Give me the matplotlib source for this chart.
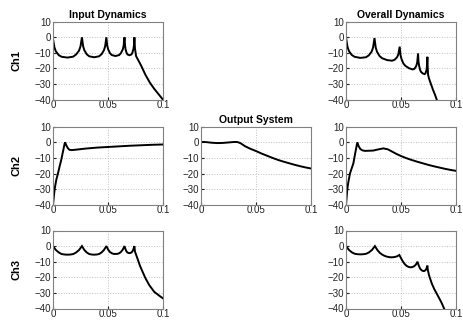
import matplotlib
matplotlib.use("Agg")
import matplotlib.pyplot as plt

plt.rcParams['font.family'] = ['Liberation Sans', 'DejaVu Sans']

# ---------------- data ----------------
# Input Dynamics, Ch1
in1_x = [0, 0.0013, 0.0026, 0.0053, 0.0079, 0.0132, 0.0184, 0.0210, 0.0237, 0.0250, 0.0263,
         0.0274, 0.0285, 0.0307, 0.0330, 0.0374, 0.0418, 0.0441, 0.0463, 0.0474, 0.0485,
         0.0493, 0.0502, 0.0518, 0.0535, 0.0568, 0.0601, 0.0617, 0.0634, 0.0642, 0.0650,
         0.0655, 0.0659, 0.0668, 0.0677, 0.0695, 0.0713, 0.0722, 0.0731, 0.0736, 0.0740,
         0.0745, 0.0755, 0.0770, 0.0800, 0.0840, 0.0880, 0.0920, 0.0960, 0.1000]
in1_y = [-1, -6.5, -9, -11.5, -12.5, -13, -12.4, -11, -8.5, -5.8, 0,
         -5.8, -8.3, -10.9, -12.2, -12.8, -12.2, -10.9, -8.3, -5.8, 0,
         -5.4, -7.8, -10.2, -11.4, -12, -11.4, -10.2, -7.8, -5.4, 0,
         -5.2, -7.5, -9.8, -11, -11.5, -11, -9.8, -7.5, -5.2, 0,
         -7, -12, -14, -18, -24, -29, -33, -36.5, -40]

# Input Dynamics, Ch2
in2_x = [0, 0.0015, 0.003, 0.0045, 0.006, 0.0076, 0.0092, 0.0106, 0.011, 0.012, 0.0135,
         0.015, 0.017, 0.02, 0.025, 0.03, 0.04, 0.05, 0.06, 0.07, 0.08, 0.09, 0.1]
in2_y = [-40, -30, -24, -20, -15.5, -11, -5.5, -0.8, 0, -1.8, -3.8,
         -4.8, -5, -4.8, -4.4, -4, -3.4, -3, -2.6, -2.2, -1.9, -1.6, -1.4]

# Input Dynamics, Ch3
in3_x = [0, 0.0026, 0.0053, 0.0079, 0.0105, 0.0132, 0.0158, 0.0184, 0.0210, 0.0237, 0.0263,
         0.0285, 0.0307, 0.0330, 0.0352, 0.0374, 0.0396, 0.0418, 0.0441, 0.0463, 0.0485,
         0.0502, 0.0518, 0.0535, 0.0551, 0.0568, 0.0584, 0.0601, 0.0617, 0.0634, 0.0650,
         0.0659, 0.0668, 0.0677, 0.0686, 0.0695, 0.0704, 0.0713, 0.0722, 0.0731, 0.0740,
         0.0745, 0.0768, 0.0790, 0.0814, 0.0840, 0.0875, 0.0920, 0.0966, 0.1000]
in3_y = [0, -2.5, -4.1, -5.1, -5.4, -5.5, -5.4, -5.1, -4.1, -2.5, 0,
         -2.5, -4.1, -5.1, -5.4, -5.5, -5.4, -5.1, -4.1, -2.5, 0,
         -2.3, -3.8, -4.6, -5, -5, -5, -4.6, -3.8, -2.3, 0,
         -2, -3.4, -4.1, -4.4, -4.5, -4.4, -4.1, -3.4, -2, 0,
         -3.5, -8, -12.5, -16.4, -20.5, -25, -29.3, -31.8, -33.5]

# Output System
out_x = [0, 0.005, 0.01, 0.015, 0.02, 0.025, 0.03, 0.033, 0.036, 0.04, 0.045, 0.05,
         0.055, 0.06, 0.065, 0.07, 0.075, 0.08, 0.085, 0.09, 0.095, 0.1]
out_y = [0.3, 0.1, -0.3, -0.5, -0.4, -0.1, 0.2, 0.2, -0.6, -2.5, -4.2, -5.6,
         -7.2, -8.6, -10, -11.3, -12.4, -13.4, -14.4, -15.3, -16.1, -16.8]

# Overall Dynamics, Ch1
ov1_x = [0, 0.0013, 0.0026, 0.0052, 0.0078, 0.0130, 0.0181, 0.0207, 0.0233, 0.0246, 0.0259,
         0.0270, 0.0282, 0.0305, 0.0328, 0.0373, 0.0419, 0.0442, 0.0465, 0.0476, 0.0488,
         0.0496, 0.0505, 0.0521, 0.0538, 0.0572, 0.0605, 0.0622, 0.0638, 0.0647, 0.0655,
         0.0659, 0.0664, 0.0672, 0.0680, 0.0698, 0.0715, 0.0723, 0.0732, 0.0736, 0.0740,
         0.0742, 0.0746, 0.0755, 0.0770, 0.0790, 0.0810, 0.0830]
ov1_y = [0, -6, -8.7, -11.3, -12.5, -13.2, -12.8, -11.6, -9.2, -6.6, -0.5,
         -6.5, -9.3, -12, -13.4, -14.6, -15, -14.4, -12.7, -10.8, -6,
         -11.5, -14, -16.7, -18.2, -19.8, -20.6, -20.2, -18.5, -16.3, -10.5,
         -15.5, -18, -20.5, -22, -23.2, -23.6, -23, -21, -18.5, -12.5,
         -18, -24, -26.5, -29.5, -33.5, -37, -41]

# Overall Dynamics, Ch2
ov2_x = [0, 0.0012, 0.002, 0.0036, 0.0067, 0.0085, 0.0103, 0.0115, 0.013, 0.015, 0.0173,
         0.021, 0.0248, 0.029, 0.034, 0.038, 0.042, 0.046, 0.05, 0.055, 0.06, 0.065,
         0.07, 0.075, 0.08, 0.085, 0.09, 0.095, 0.1]
ov2_y = [-40, -30, -26, -20, -13.5, -6.5, 0, -2.5, -4.3, -5.2, -5.5,
         -5.4, -5.3, -4.6, -3.9, -4.5, -6, -7.5, -8.8, -10.2, -11.4, -12.5,
         -13.5, -14.5, -15.4, -16.2, -17, -17.7, -18.3]

# Overall Dynamics, Ch3
ov3_x = [0, 0.0026, 0.0053, 0.0079, 0.0105, 0.0132, 0.0158, 0.0184, 0.0210, 0.0237, 0.0263,
         0.0285, 0.0307, 0.0330, 0.0352, 0.0374, 0.0396, 0.0418, 0.0441, 0.0463, 0.0485,
         0.0502, 0.0518, 0.0535, 0.0551, 0.0568, 0.0584, 0.0601, 0.0617, 0.0634, 0.0650,
         0.0659, 0.0668, 0.0677, 0.0686, 0.0695, 0.0704, 0.0713, 0.0722, 0.0731, 0.0740,
         0.0743, 0.0756, 0.0780, 0.0802, 0.0825, 0.0848, 0.0870, 0.0893]
ov3_y = [0, -2.4, -4, -4.9, -5.2, -5.3, -5.2, -4.9, -4, -2.4, 0,
         -2.5, -4.3, -5.5, -6.3, -6.8, -7.1, -7.2, -7.0, -6.6, -5.7,
         -8, -10, -11.6, -12.7, -13.3, -13.6, -13.5, -13, -12, -10,
         -12, -13.6, -14.7, -15.4, -15.8, -16, -15.9, -15.5, -14.5, -12.5,
         -15, -19, -24, -27.5, -30.5, -33.5, -36.5, -40.2]

x_ticks = [0, 0.05, 0.1]
x_tick_labels = ['0', '0.05', '0.1']
y_ticks = [10, 0, -10, -20, -30, -40]
row_labels = ['Ch1', 'Ch2', 'Ch3']
titles = ['Input Dynamics', 'Output System', 'Overall Dynamics']

# ---------------- layout ----------------
W, H = 463, 320
fig = plt.figure(figsize=(W / 100, H / 100), dpi=100)

col_left = [53, 201, 346]
col_w = 110
row_top = [21.7, 126.7, 230.5]
row_h = 78


def make_ax(c, r):
    ax = fig.add_axes([col_left[c] / W, 1 - (row_top[r] + row_h) / H, col_w / W, row_h / H])
    ax.set_xlim(0, 0.1)
    ax.set_ylim(-40, 10)
    ax.set_xticks(x_ticks)
    ax.set_xticklabels(x_tick_labels)
    ax.set_yticks(y_ticks)
    ax.grid(True, linestyle=':', color='#c0c0c0', linewidth=0.7)
    ax.tick_params(labelsize=7, length=2, direction='in', colors='#222222')
    ax.tick_params(axis='x', pad=0.5)
    ax.tick_params(axis='y', pad=1.5)
    for s in ax.spines.values():
        s.set_color('#808080')
        s.set_linewidth(0.8)
    return ax


lw = 1.4
panels = [
    (0, 0, in1_x, in1_y), (0, 1, in2_x, in2_y), (0, 2, in3_x, in3_y),
    (1, 1, out_x, out_y),
    (2, 0, ov1_x, ov1_y), (2, 1, ov2_x, ov2_y), (2, 2, ov3_x, ov3_y),
]
axes = {}
for c, r, xs, ys in panels:
    ax = make_ax(c, r)
    ax.plot(xs, ys, color='black', linewidth=lw, solid_joinstyle='miter')
    axes[(c, r)] = ax

axes[(0, 0)].set_title(titles[0], fontsize=7.5, fontweight='bold', pad=3)
axes[(1, 1)].set_title(titles[1], fontsize=7.5, fontweight='bold', pad=3)
axes[(2, 0)].set_title(titles[2], fontsize=7.5, fontweight='bold', pad=3)

for r in range(3):
    axes[(0, r)].set_ylabel(row_labels[r], fontsize=8, fontweight='bold', labelpad=9)

fig.savefig('out.png', dpi=100)
